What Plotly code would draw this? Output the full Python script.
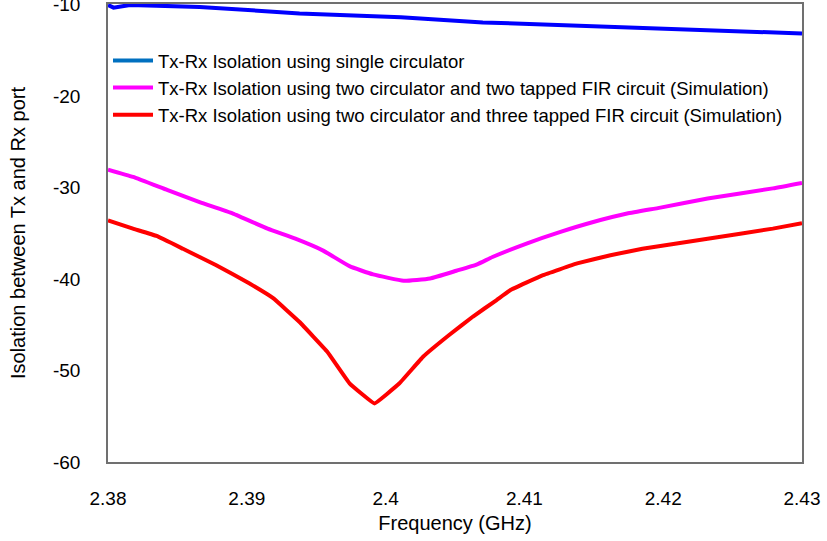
import plotly.graph_objects as go

names = [
    "Tx-Rx Isolation using single circulator",
    "Tx-Rx Isolation using two circulator and two tapped FIR circuit (Simulation)",
    "Tx-Rx Isolation using two circulator and three tapped FIR circuit (Simulation)",
]

freq_single = [2.3800, 2.3802, 2.3804, 2.3816, 2.3866, 2.3938, 2.4011, 2.4070, 2.4130,
               2.4190, 2.4250, 2.4280, 2.4300]
iso_single = [-10.05, -10.15, -10.35, -10.05, -10.27, -10.98, -11.40, -11.96, -12.25,
              -12.55, -12.85, -13.06, -13.17]

freq_two = [2.3800, 2.3818, 2.3843, 2.3866, 2.3890, 2.3915, 2.3935, 2.3955, 2.3974, 2.3991,
            2.4013, 2.4032, 2.4051, 2.4066, 2.4077, 2.4102, 2.4126, 2.4149, 2.4174, 2.4198,
            2.4232, 2.4279, 2.4300]
iso_two = [-28.05, -28.85, -30.3, -31.6, -32.85, -34.5, -35.6, -36.9, -38.6, -39.5,
           -40.2, -39.95, -39.1, -38.4, -37.6, -36.1, -34.85, -33.8, -32.85, -32.2,
           -31.2, -30.1, -29.5]

freq_three = [2.3800, 2.3818, 2.3835, 2.3854, 2.3878, 2.3902, 2.3919, 2.3938, 2.3958, 2.3974,
              2.3992, 2.4010, 2.4027, 2.4046, 2.4063, 2.4080, 2.4090, 2.4113, 2.4138, 2.4162,
              2.4185, 2.4232, 2.4279, 2.4300]
iso_three = [-33.6, -34.5, -35.3, -36.7, -38.5, -40.5, -42.1, -44.7, -47.95, -51.4,
             -53.6, -51.4, -48.5, -46.1, -44.1, -42.3, -41.2, -39.6, -38.3, -37.4,
             -36.7, -35.6, -34.5, -33.9]

x_ticks = [2.38, 2.39, 2.40, 2.41, 2.42, 2.43]
x_labels = ["2.38", "2.39", "2.4", "2.41", "2.42", "2.43"]
y_ticks = [-10, -20, -30, -40, -50, -60]
y_labels = ["-10", "-20", "-30", "-40", "-50", "-60"]

fig = go.Figure()
# legend swatch for first series (lighter blue in legend)
fig.add_trace(go.Scatter(x=[None], y=[None], mode="lines", name=names[0],
                         line=dict(color="#0070C0", width=4)))
fig.add_trace(go.Scatter(x=freq_two, y=iso_two, mode="lines", name=names[1],
                         line=dict(color="#FF00FF", width=4, shape="spline", smoothing=0.4)))
fig.add_trace(go.Scatter(x=freq_three, y=iso_three, mode="lines", name=names[2],
                         line=dict(color="#FF0000", width=4, shape="spline", smoothing=0.2)))
fig.add_trace(go.Scatter(x=freq_single, y=iso_single, mode="lines", name=names[0],
                         showlegend=False, line=dict(color="#0000FF", width=4)))

fig.update_layout(
    width=827, height=541,
    margin=dict(l=108, r=25, t=4, b=79),
    paper_bgcolor="white", plot_bgcolor="white",
    font=dict(family="Liberation Sans, Arial", size=19, color="black"),
    showlegend=True,
    legend=dict(x=0.0, y=0.917, xanchor="left", yanchor="top",
                bgcolor="rgba(0,0,0,0)", font=dict(size=18.5),
                tracegroupgap=0, itemwidth=40),
    xaxis=dict(range=[2.38, 2.43], tickvals=x_ticks, ticktext=x_labels,
               showgrid=False, zeroline=False, showline=True, linecolor="#707070",
               linewidth=1.5, mirror=True, ticks="", ticklabelstandoff=18,
               tickfont=dict(size=19), automargin=False,
               title=dict(text="Frequency (GHz)", font=dict(size=20), standoff=8)),
    yaxis=dict(range=[-60, -9.95], tickvals=y_ticks, ticktext=y_labels,
               showgrid=False, zeroline=False, showline=True, linecolor="#707070",
               linewidth=1.5, mirror=True, ticks="", ticklabelstandoff=22,
               ticklabeloverflow="allow", automargin=False,
               tickfont=dict(size=19),
               title=dict(text="Isolation between Tx and Rx port", font=dict(size=20), standoff=22)),
)

fig.write_html("out.html")
